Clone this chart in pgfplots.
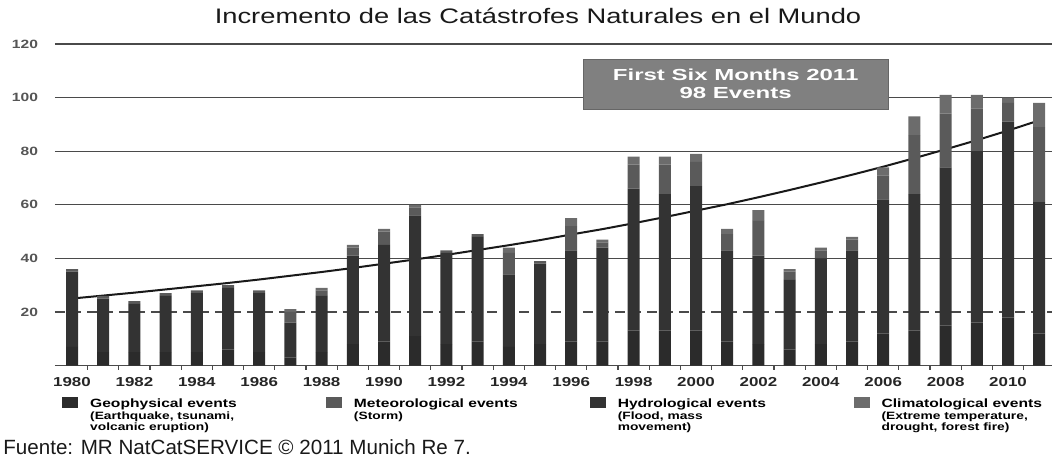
\documentclass[border=0pt]{standalone}
\usepackage{fontspec}
\setmainfont{Liberation Sans}
\newfontfamily\wide[FakeStretch=1.3]{Liberation Sans}
\newfontfamily\wider[FakeStretch=1.5]{Liberation Sans}
\usepackage{pgfplots}
\usepackage{pgfplotstable}
\pgfplotsset{compat=1.18}
\definecolor{geo}{HTML}{2B2B2B}
\definecolor{hyd}{HTML}{333333}
\definecolor{met}{HTML}{5A5A5A}
\definecolor{cli}{HTML}{6C6C6C}
\definecolor{gridc}{HTML}{4A4A4A}
\definecolor{boxg}{HTML}{808080}
\definecolor{labc}{HTML}{555555}

\pgfplotstableread{
year geo hydro meteo clim
1980 7 28 1 0
1981 5 20 1 0
1982 5 18 1 0
1983 5 21 1 0
1984 5 22 1 0
1985 6 23 1 0
1986 5 22 1 0
1987 3 13 4 1
1988 5 21 2 1
1989 8 33 3 1
1990 9 36 5 1
1991 11 45 3 1
1992 8 34 1 0
1993 9 39 1 0
1994 7 27 8 2
1995 8 30 1 0
1996 9 34 9 3
1997 9 35 2 1
1998 13 53 9 3
1999 13 51 11 3
2000 13 54 9 3
2001 9 34 6 2
2002 8 33 13 4
2003 6 26 3 1
2004 8 32 3 1
2005 9 34 4 1
2006 12 50 9 3
2007 13 51 22 7
2008 15 59 20 7
2009 16 64 16 5
2010 18 73 7 2
2011 12 49 28 9
}\datatable

\pgfplotstableread{
year trend
1980 25.0
1981 26.1
1982 27.2
1983 28.4
1984 29.6
1985 30.8
1986 32.1
1987 33.5
1988 34.9
1989 36.4
1990 38.0
1991 39.6
1992 41.3
1993 43.1
1994 44.9
1995 46.8
1996 48.9
1997 50.9
1998 53.1
1999 55.4
2000 57.8
2001 60.2
2002 62.8
2003 65.5
2004 68.3
2005 71.2
2006 74.2
2007 77.4
2008 80.7
2009 84.1
2010 87.7
2011 91.5
}\trendtable

\begin{document}
\begin{tikzpicture}
\useasboundingbox (-27.5pt,-45.75pt) rectangle (498.5pt,182.75pt);
\begin{axis}[
  at={(0pt,0pt)}, anchor=south west,
  width=498.5pt, height=160.75pt, scale only axis,
  xmin=1979.455, xmax=2011.41, ymin=0, ymax=120,
  clip=false,
  ybar stacked, bar width=6pt,
  axis x line*=bottom,
  axis y line*=left,
  y axis line style={draw=none},
  x axis line style={draw=gridc, line width=0.8pt},
  /pgf/number format/assume math mode=true,
  /pgf/number format/1000 sep={},
  xtick={1980,1982,...,2010},
  minor xtick={1980.5,1981.5,...,2010.5},
  major tick length=0pt,
  minor tick length=2pt,
  tick align=outside,
  minor tick style={draw=gridc, line width=0.6pt},
  ytick={40,60,80,100,120},
  extra y ticks={20},
  extra y tick style={grid style={draw=gridc, line width=0.6pt, dash pattern=on 5pt off 3pt}},
  ymajorgrids,
  grid style={draw=gridc, line width=0.6pt},
  ytick style={draw=none},
  xticklabel style={font=\wide\bfseries\fontsize{6.5}{7}\selectfont, text=black!85, yshift=-2.5pt},
  yticklabel style={font=\wide\bfseries\fontsize{6}{7}\selectfont, text=labc, xshift=-5pt},
  title={Incremento de las Catástrofes Naturales en el Mundo},
  title style={at={(axis description cs:0.4845,1.05)}, anchor=center, font=\wide\fontsize{10.5}{12}\selectfont, text=black!90},
  legend columns=4,
  legend cell align=left,
  legend style={at={(axis description cs:0.007,-0.098)}, anchor=north west, draw=none, fill=none, inner sep=0pt,
    nodes={inner sep=0pt},
    /tikz/every odd column/.append style={column sep=6pt},
    /tikz/every even column/.append style={column sep=8pt}},
]
\addlegendimage{legend image code/.code={\fill[geo] (0pt,-1.5pt) rectangle (7.5pt,3.5pt);}}
\addlegendentry{\parbox[t]{110pt}{\wide\bfseries\fontsize{6}{5.5}\selectfont Geophysical events\\[0.3pt]\fontsize{5.3}{5.5}\selectfont (Earthquake, tsunami,\\ volcanic eruption)}}
\addlegendimage{legend image code/.code={\fill[met] (0pt,-1.5pt) rectangle (7.5pt,3.5pt);}}
\addlegendentry{\parbox[t]{110pt}{\wide\bfseries\fontsize{6}{5.5}\selectfont Meteorological events\\[0.3pt]\fontsize{5.3}{5.5}\selectfont (Storm)}}
\addlegendimage{legend image code/.code={\fill[hyd] (0pt,-1.5pt) rectangle (7.5pt,3.5pt);}}
\addlegendentry{\parbox[t]{110pt}{\wide\bfseries\fontsize{6}{5.5}\selectfont Hydrological events\\[0.3pt]\fontsize{5.3}{5.5}\selectfont (Flood, mass\\ movement)}}
\addlegendimage{legend image code/.code={\fill[cli] (0pt,-1.5pt) rectangle (7.5pt,3.5pt);}}
\addlegendentry{\parbox[t]{110pt}{\wide\bfseries\fontsize{6}{5.5}\selectfont Climatological events\\[0.3pt]\fontsize{5.3}{5.5}\selectfont (Extreme temperature,\\ drought, forest fire)}}

\addplot[fill=geo, draw=none, forget plot] table[x=year, y=geo] {\datatable};
\addplot[fill=hyd, draw=none, forget plot] table[x=year, y=hydro] {\datatable};
\addplot[fill=met, draw=none, forget plot] table[x=year, y=meteo] {\datatable};
\addplot[fill=cli, draw=none, forget plot] table[x=year, y=clim] {\datatable};

\addplot[sharp plot, stack plots=false, draw=black!90, line width=1pt, forget plot] table[x=year, y=trend] {\trendtable};

\node[fill=boxg, draw=black!60, line width=0.5pt, text=white, align=center, minimum width=152.5pt, minimum height=25pt, inner sep=0pt,
  font=\wider\bfseries\fontsize{8}{9}\selectfont] at (axis cs:2001.27,105) {First Six Months 2011\\98 Events};

\node[anchor=west, inner sep=0pt, font=\fontsize{10.3}{12}\selectfont, text=black!90] at (axis description cs:-0.0522,-0.2535) {Fuente: MR NatCatSERVICE © 2011 Munich Re 7.};
\end{axis}
\end{tikzpicture}
\end{document}
